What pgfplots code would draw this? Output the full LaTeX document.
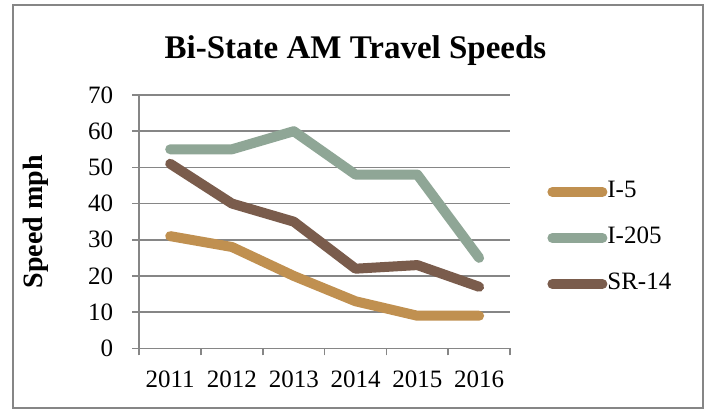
\documentclass[border=0pt]{standalone}
\usepackage{fontspec}
\setmainfont{Liberation Serif}
\usepackage{pgfplots}
\pgfplotsset{compat=1.18}
\definecolor{cIfive}{RGB}{192,144,80}
\definecolor{cItwo}{RGB}{143,166,150}
\definecolor{cSR}{RGB}{122,92,76}
\definecolor{gridgray}{RGB}{134,134,134}
\begin{document}
\begin{tikzpicture}
\fill[white] (0,0) rectangle (355.5pt,204.5pt);
\draw[gridgray, line width=0.8pt] (6.35pt,0.6pt) rectangle (351.5pt,202pt);
\node[anchor=base, font=\fontsize{16.5}{19}\selectfont\bfseries] at (177.75pt,175.5pt) {Bi-State AM Travel Speeds};
\begin{axis}[
  at={(69.65pt,30.35pt)}, anchor=south west,
  scale only axis, width=185.35pt, height=126.65pt,
  xmin=-0.5, xmax=5.5, ymin=0, ymax=70,
  xtick={0,1,2,3,4,5}, xticklabels={2011,2012,2013,2014,2015,2016},
  minor xtick={-0.5,0.5,1.5,2.5,3.5,4.5,5.5},
  ytick={0,10,...,70},
  axis lines=left,
  axis line style={-, draw=gridgray, line width=0.8pt},
  ymajorgrids, grid style={draw=gridgray, line width=0.8pt},
  tick align=outside,
  major tick length=3.5pt, minor tick length=3.5pt,
  major x tick style={draw=none},
  every tick/.style={draw=gridgray, line width=0.8pt},
  minor x tick style={draw=gridgray, line width=0.8pt},
  y tick style={draw=gridgray, line width=0.8pt},
  /pgf/number format/assume math mode=true,
  tick label style={font=\fontsize{12.5}{14}\selectfont},
  xticklabel style={yshift=-4pt},
  yticklabel style={xshift=-6pt},
  ylabel={Speed mph},
  every axis y label/.style={at={(axis description cs:-0.28,0.5)}, rotate=90, anchor=center, font=\fontsize{14}{16}\selectfont\bfseries},
  legend style={at={(axis description cs:1,0.4355)}, anchor=west, xshift=18.5pt, draw=none, fill=none, inner sep=0pt, row sep=11pt, column sep=0pt,
    nodes={inner sep=0pt, text height=9pt, text depth=3pt, font=\fontsize{12.5}{14}\selectfont}},
  legend cell align=left,
  legend image code/.code={\draw[#1, line width=5pt, line cap=round] (2.5pt,0pt) -- (27.5pt,0pt);},
  every axis plot/.append style={line width=5pt, line join=round, line cap=round, no markers},
  clip=false,
]
\addplot[cIfive] coordinates {(0,31) (1,28) (2,20) (3,13) (4,9) (5,9)};
\addlegendentry{I-5}
\addplot[cItwo] coordinates {(0,55) (1,55) (2,60) (3,48) (4,48) (5,25)};
\addlegendentry{I-205}
\addplot[cSR] coordinates {(0,51) (1,40) (2,35) (3,22) (4,23) (5,17)};
\addlegendentry{SR-14}
\end{axis}
\end{tikzpicture}
\end{document}
